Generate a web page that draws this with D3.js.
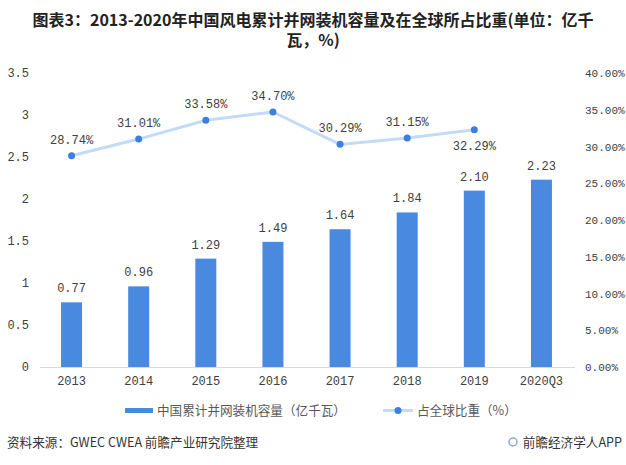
<!DOCTYPE html>
<html><head><meta charset="utf-8">
<script src="https://cdn.jsdelivr.net/npm/d3@7"></script>
<style>body{margin:0;background:#fff}svg{display:block}</style>
</head><body><svg id="c" width="626" height="465"></svg>
<script>
const categories = ["2013","2014","2015","2016","2017","2018","2019","2020Q3"];
const capacity = [0.77,0.96,1.29,1.49,1.64,1.84,2.10,2.23];
const capacityLabels = ["0.77","0.96","1.29","1.49","1.64","1.84","2.10","2.23"];
const shareYears = ["2013","2014","2015","2016","2017","2018","2019"];
const share = [28.74,31.01,33.58,34.70,30.29,31.15,32.29];
const leftTicks = [0,0.5,1,1.5,2,2.5,3,3.5];
const rightTicks = [0,5,10,15,20,25,30,35,40];
const title1 = "图表3：2013-2020年中国风电累计并网装机容量及在全球所占比重(单位：亿千";
const title2 = "瓦，%)";
const legendBar = "中国累计并网装机容量（亿千瓦）";
const legendLine = "占全球比重（%）";
const source = "资料来源：GWEC CWEA 前瞻产业研究院整理";
const brand = "前瞻经济学人APP";

const svg = d3.select("#c");
const numFont = "'Liberation Mono', monospace";
const cjk = "'Noto Sans CJK SC', sans-serif";
const barColor = "#4a89e0", lineColor = "#c3dbf8", dotColor = "#3b7fe0", txt = "#404040";

const x = d3.scaleBand().domain(categories).range([38,575]).paddingInner(0.687).paddingOuter(0.3435);
const y = d3.scaleLinear().domain([0,3.5]).range([367,73]);
const y2 = d3.scaleLinear().domain([0,40]).range([367,73]);

// title
svg.append("text").attr("x",313).attr("y",26).attr("text-anchor","middle")
  .attr("font-family",cjk).attr("font-weight","bold").attr("font-size",16).attr("fill","#222").text(title1);
svg.append("text").attr("x",313).attr("y",46).attr("text-anchor","middle")
  .attr("font-family",cjk).attr("font-weight","bold").attr("font-size",16).attr("fill","#222").text(title2);

// left axis
const la = svg.append("g").attr("transform","translate(29,0)")
  .call(d3.axisLeft(y).tickValues(leftTicks).tickFormat(d=>String(d)).tickSize(0).tickPadding(0));
la.select(".domain").remove();
la.selectAll("text").attr("font-family",numFont).attr("font-size",12).attr("fill",txt);

// right axis
const ra = svg.append("g").attr("transform","translate(585,0)")
  .call(d3.axisRight(y2).tickValues(rightTicks).tickFormat(d=>d.toFixed(2)+"%").tickSize(0).tickPadding(0));
ra.select(".domain").remove();
ra.selectAll("text").attr("font-family",numFont).attr("font-size",11).attr("fill",txt);

// bottom axis
const ba = svg.append("g").attr("transform","translate(0,367)")
  .call(d3.axisBottom(x).tickSize(0).tickPadding(9));
ba.select(".domain").attr("stroke","#d9d9d9").attr("d","M40,0.5H575");
ba.selectAll("text").attr("font-family",numFont).attr("font-size",12).attr("fill",txt);

// bars
svg.append("g").selectAll("rect").data(categories).join("rect")
  .attr("x",d=>x(d)).attr("width",x.bandwidth())
  .attr("y",(d,i)=>y(capacity[i])).attr("height",(d,i)=>y(0)-y(capacity[i]))
  .attr("fill",barColor);
svg.append("g").selectAll("text").data(categories).join("text")
  .attr("x",d=>x(d)+x.bandwidth()/2).attr("y",(d,i)=>y(capacity[i])-10)
  .attr("text-anchor","middle").attr("font-family",numFont).attr("font-size",12).attr("fill",txt)
  .text((d,i)=>capacityLabels[i]);

// line
const cx = d=>x(d)+x.bandwidth()/2;
const line = d3.line().x((d,i)=>cx(shareYears[i])).y(d=>y2(d));
svg.append("path").datum(share).attr("d",line).attr("fill","none")
  .attr("stroke",lineColor).attr("stroke-width",3);
svg.append("g").selectAll("circle").data(share).join("circle")
  .attr("cx",(d,i)=>cx(shareYears[i])).attr("cy",d=>y2(d)).attr("r",3.5).attr("fill",dotColor);
svg.append("g").selectAll("text").data(share).join("text")
  .attr("x",(d,i)=>cx(shareYears[i]))
  .attr("y",(d,i)=> i===share.length-1 ? y2(d)+20 : y2(d)-12)
  .attr("text-anchor","middle").attr("font-family",numFont).attr("font-size",12).attr("fill",txt)
  .text(d=>d.toFixed(2)+"%");

// legend
svg.append("rect").attr("x",125).attr("y",408).attr("width",28).attr("height",5).attr("fill",barColor);
svg.append("text").attr("x",157).attr("y",415).attr("font-family",cjk).attr("font-size",12.6).attr("fill","#595959").text(legendBar);
svg.append("line").attr("x1",383).attr("x2",413).attr("y1",410.5).attr("y2",410.5).attr("stroke",lineColor).attr("stroke-width",3);
svg.append("circle").attr("cx",398).attr("cy",410.5).attr("r",3.5).attr("fill",dotColor);
svg.append("text").attr("x",417).attr("y",415).attr("font-family",cjk).attr("font-size",12.6).attr("fill","#595959").text(legendLine);

// source
svg.append("text").attr("x",7).attr("y",447).attr("font-family",cjk).attr("font-size",12.6).attr("fill","#333").text(source);
svg.append("circle").attr("cx",513).attr("cy",442).attr("r",4).attr("fill","none").attr("stroke","#8aa9d6").attr("stroke-width",1.5);
svg.append("text").attr("x",622).attr("y",447).attr("text-anchor","end").attr("font-family",cjk).attr("font-size",12.6).attr("fill","#333").text(brand);
</script></body></html>
